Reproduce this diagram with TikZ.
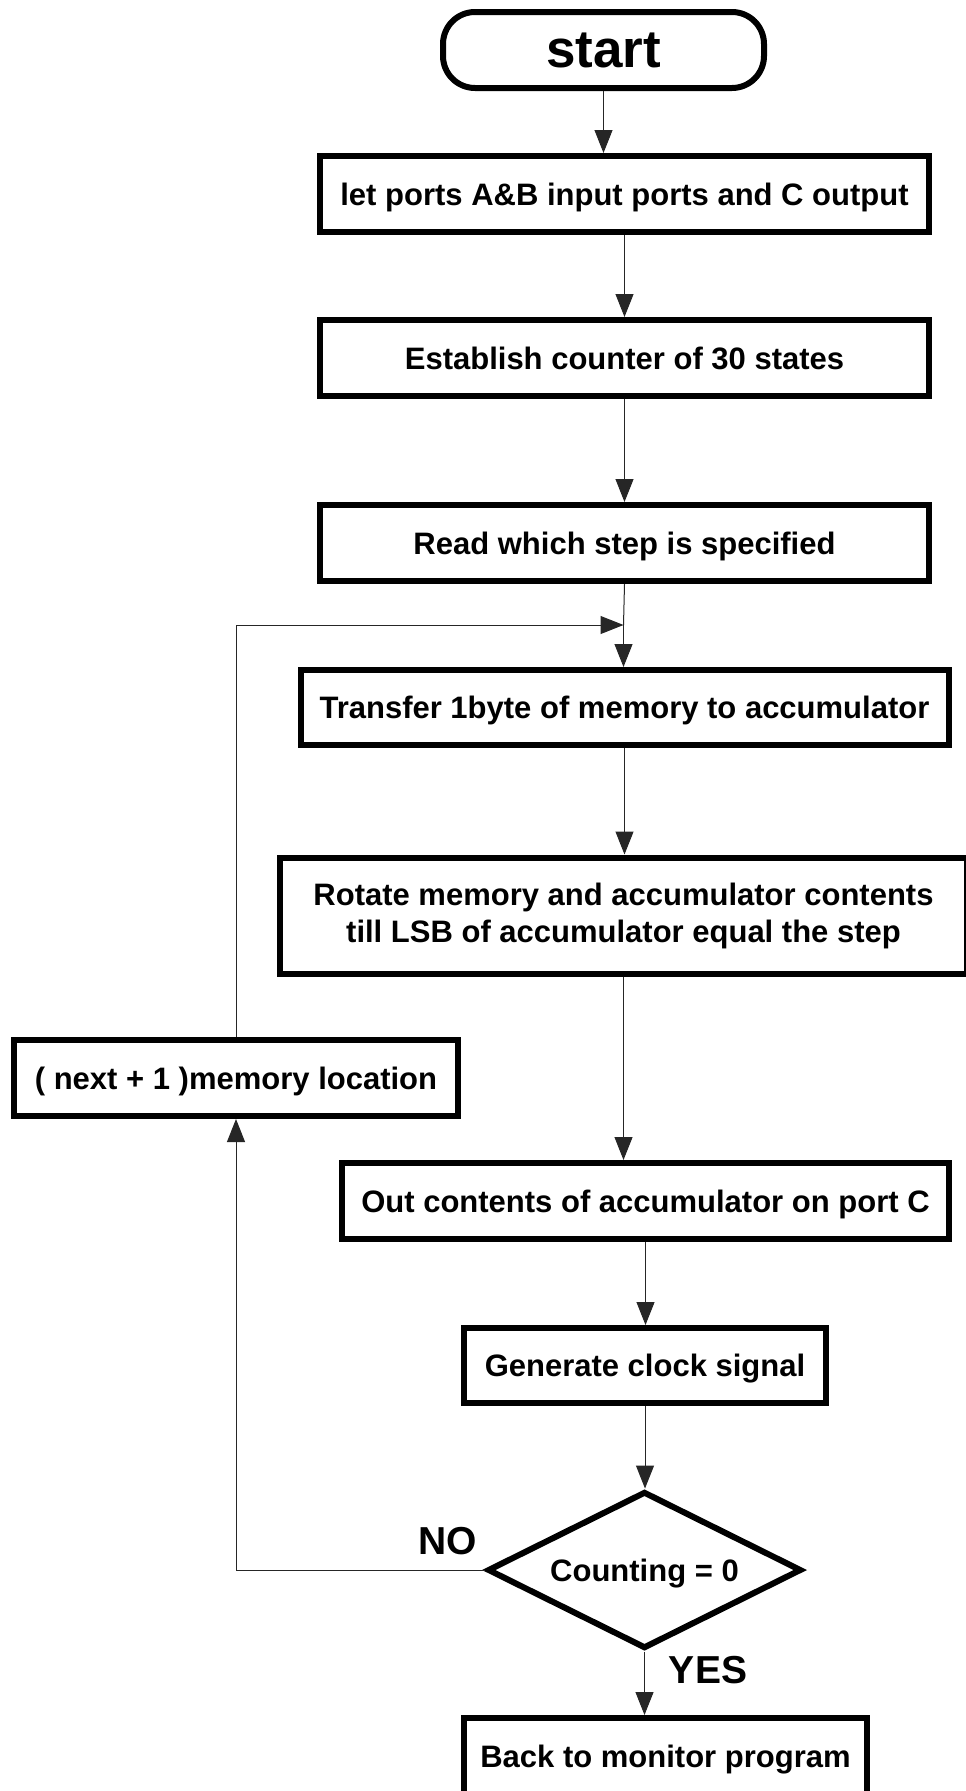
\documentclass[tikz,border=0pt]{standalone}
\usepackage{fontspec}
\setmainfont{Liberation Sans}
\usetikzlibrary{arrows.meta,shapes.geometric}
\begin{document}
\begin{tikzpicture}[x=1pt,y=-1pt,
  boxbase/.style={draw=black,line width=6pt,rectangle,inner sep=0pt,
    font=\fontsize{31}{37}\selectfont\bfseries,align=center,fill=white},
  box/.style={boxbase,text height=27pt,text depth=5pt},
  conn/.style={line width=1pt,draw=black!85},
  arr/.style={conn,-{Triangle[length=23pt,width=18pt]}},
  lbl/.style={font=\fontsize{39}{44}\selectfont\bfseries,inner sep=0pt}]
\useasboundingbox (0,0) rectangle (966,1791);
\fill[white] (0,0) rectangle (966,1791);
\clip (0,0) rectangle (966,1791);

\node[boxbase,rounded corners=32pt,minimum width=321pt,minimum height=76pt,
  font=\fontsize{53}{60}\selectfont\bfseries] (start) at (603.5,50) {start};
\node[box,minimum width=609pt,minimum height=76pt] (b1) at (624.5,194) {let ports A\&B input ports and C output};
\node[box,minimum width=609pt,minimum height=76pt] (b2) at (624.5,358) {Establish counter of 30 states};
\node[box,minimum width=609pt,minimum height=76pt] (b3) at (624.5,543) {Read which step is specified};
\node[box,minimum width=648pt,minimum height=75pt] (b4) at (624.5,707.5) {Transfer 1byte of memory to accumulator};
\node[boxbase,minimum width=687pt,minimum height=116pt] (b5) at (623.5,915.5) {Rotate memory and accumulator contents\\ till LSB of accumulator equal the step};
\node[box,minimum width=444pt,minimum height=76pt] (next) at (236,1078) {( next + 1 )memory location};
\node[box,minimum width=607pt,minimum height=76pt] (b6) at (645.5,1201) {Out contents of accumulator on port C};
\node[box,minimum width=362pt,minimum height=75pt] (b7) at (645,1365.5) {Generate clock signal};
\node[box,diamond,aspect=2,minimum width=314pt,minimum height=157pt] (dia) at (644.5,1570) {Counting = 0};
\node[box,minimum width=403pt,minimum height=76pt] (b8) at (665.5,1756) {Back to monitor program};

\node[lbl] (no) at (447.5,1541) {NO};
\node[lbl] (yes) at (708,1670) {YES};

\coordinate (m) at (623.5,625);

\draw[arr] (start.south) -- (start.south |- b1.north);
\draw[arr] (b1.south) -- (b2.north);
\draw[arr] (b2.south) -- (b3.north);
\draw[conn] (b3.south) -- (m);
\draw[arr] (m) -- (m |- b4.north);
\draw[arr] (next.north) |- (m);
\draw[arr] (b4.south) -- (b4.south |- b5.north);
\draw[arr] (b5.south) -- (b5.south |- b6.north);
\draw[arr] (b6.south) -- (b6.south |- b7.north);
\draw[arr] (b7.south) -- (b7.south |- dia.north);
\draw[arr] (dia.west) -| (next.south);
\draw[arr] (dia.south) -- (dia.south |- b8.north);
\end{tikzpicture}
\end{document}
